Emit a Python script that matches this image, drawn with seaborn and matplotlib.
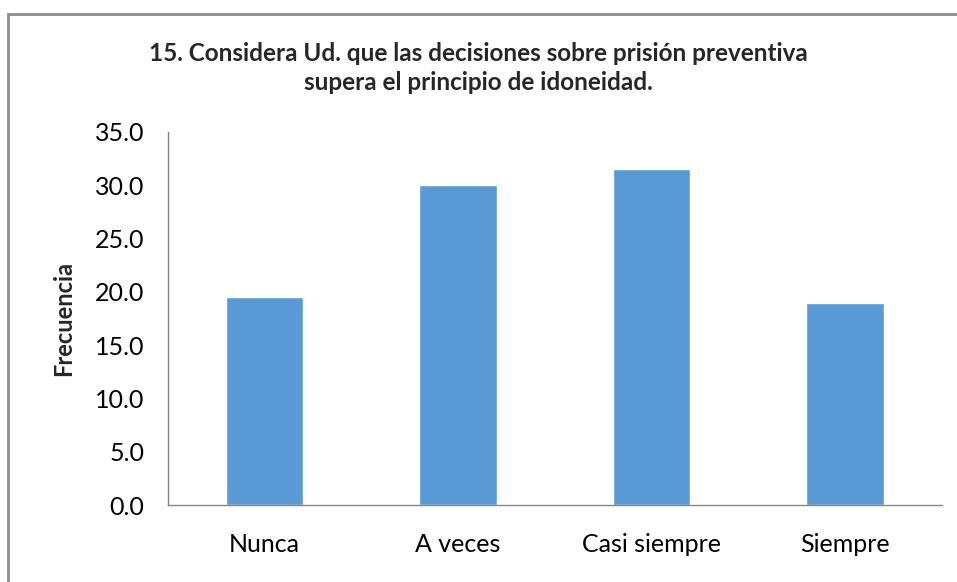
import matplotlib
matplotlib.use("Agg")
import matplotlib.pyplot as plt
import seaborn as sns
import pandas as pd
from matplotlib.patches import Rectangle

categorias = ["Nunca", "A veces", "Casi siempre", "Siempre"]
frecuencia = [19.5, 30.0, 31.5, 19.0]
yticks = [0, 5, 10, 15, 20, 25, 30, 35]

sns.set_theme(style="white")
plt.rcParams['font.family'] = ['Lato', 'DejaVu Sans']

df = pd.DataFrame({'Categoria': categorias, 'Frecuencia': frecuencia})

fig = plt.figure(figsize=(9.57, 5.82), dpi=100)
ax = fig.add_axes([0.1755, 0.1323, 0.8085, 0.6409])

sns.barplot(data=df, x='Categoria', y='Frecuencia', color='#5B9BD5',
            width=0.4, saturation=1, ax=ax)

ax.set_ylim(0, 35)
ax.set_xlim(-0.5, 3.5)
ax.set_yticks(yticks)
ax.set_yticklabels([f"{v:.1f}" for v in yticks], fontsize=18, color='black')
ax.tick_params(axis='x', labelsize=18, pad=20, length=0, colors='black')
ax.tick_params(axis='y', length=0, pad=17)
ax.set_xlabel('')
ax.set_ylabel('Frecuencia', fontsize=17, fontweight='bold', labelpad=14)

for s in ['top', 'right']:
    ax.spines[s].set_visible(False)
for s in ['left', 'bottom']:
    ax.spines[s].set_color('#868686')
    ax.spines[s].set_linewidth(1)

fig.text(0.5, 0.883, '15. Considera Ud. que las decisiones sobre prisión preventiva\nsupera el principio de idoneidad.',
         ha='center', va='center', fontsize=17.5, fontweight='bold', linespacing=1.3)

# marco del gráfico
fig.patches.append(Rectangle((8 / 957, -0.1), 1.2, 1.1 - 14 / 582, transform=fig.transFigure,
                             fill=False, edgecolor='#8c8c8c', linewidth=2, clip_on=False))

fig.savefig('out.png', dpi=100)
